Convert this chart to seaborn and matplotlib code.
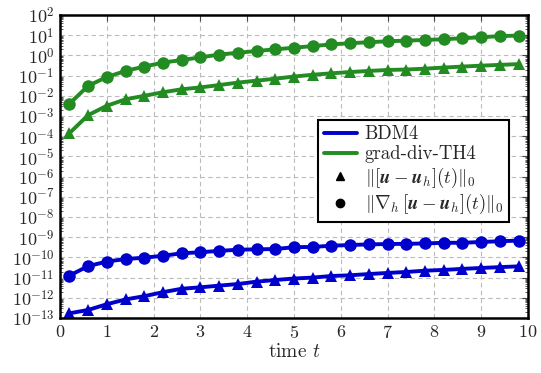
import numpy as np
import pandas as pd
import matplotlib
matplotlib.use("Agg")
import matplotlib.pyplot as plt
import seaborn as sns
from matplotlib.ticker import FixedLocator, FuncFormatter, LogLocator, NullFormatter
from matplotlib.lines import Line2D

sns.set_theme(style="white")
plt.rcParams['font.family'] = 'serif'
plt.rcParams['font.serif'] = ['cmr10', 'DejaVu Serif']
plt.rcParams['mathtext.fontset'] = 'cm'
plt.rcParams['axes.unicode_minus'] = False

# ---- data ----
t = [0.2, 0.6, 1.0, 1.4, 1.8, 2.2, 2.6, 3.0, 3.4, 3.8, 4.2, 4.6, 5.0,
     5.4, 5.8, 6.2, 6.6, 7.0, 7.4, 7.8, 8.2, 8.6, 9.0, 9.4, 9.8]

bdm_l2 = [1.7e-13, 2.5e-13, 4.8e-13, 8.3e-13, 1.2e-12, 1.9e-12, 2.8e-12, 3.3e-12,
          4.0e-12, 4.8e-12, 6.3e-12, 7.6e-12, 9.0e-12, 1.0e-11, 1.2e-11, 1.3e-11,
          1.5e-11, 1.7e-11, 1.9e-11, 2.2e-11, 2.4e-11, 2.7e-11, 3.0e-11, 3.3e-11, 3.6e-11]
bdm_h1 = [1.25e-11, 3.7e-11, 6.2e-11, 8.3e-11, 9.7e-11, 1.2e-10, 1.6e-10, 1.8e-10,
          2.1e-10, 2.4e-10, 2.5e-10, 2.6e-10, 3.2e-10, 3.3e-10, 3.8e-10, 4.1e-10,
          4.4e-10, 4.6e-10, 4.7e-10, 4.9e-10, 5.3e-10, 5.3e-10, 5.8e-10, 6.3e-10, 6.8e-10]
gd_l2 = [1.4e-4, 1.1e-3, 3.2e-3, 6.7e-3, 1.0e-2, 1.5e-2, 2.1e-2, 2.6e-2,
         3.4e-2, 4.5e-2, 5.6e-2, 7.0e-2, 9.0e-2, 0.11, 0.13, 0.15,
         0.17, 0.19, 0.20, 0.22, 0.25, 0.28, 0.31, 0.34, 0.37]
gd_h1 = [4.0e-3, 3.1e-2, 8.5e-2, 0.17, 0.28, 0.44, 0.59, 0.80,
         1.1, 1.35, 1.65, 2.0, 2.4, 2.9, 3.5, 4.0,
         4.5, 5.0, 5.4, 5.8, 6.3, 7.1, 7.9, 9.0, 9.6]

methods = ['BDM4', 'grad-div-TH4']
colors = {'BDM4': '#0000cc', 'grad-div-TH4': '#228b22'}
lab_l2 = r'$\Vert[\boldsymbol{u}-\boldsymbol{u}_h](t)\Vert_0$'
lab_h1 = r'$\Vert\nabla_h\,[\boldsymbol{u}-\boldsymbol{u}_h](t)\Vert_0$'

rows = []
for m, l2, h1 in [('BDM4', bdm_l2, bdm_h1), ('grad-div-TH4', gd_l2, gd_h1)]:
    for ti, v in zip(t, l2):
        rows.append(dict(t=ti, err=v, method=m, norm='L2'))
    for ti, v in zip(t, h1):
        rows.append(dict(t=ti, err=v, method=m, norm='H1'))
df = pd.DataFrame(rows)

fig = plt.figure(figsize=(5.41, 3.73), dpi=100)
ax = fig.add_axes([60/541, 1-318/373, 468/541, 303/373])

sns.lineplot(data=df, x='t', y='err', hue='method', style='norm',
             palette=colors, markers={'L2': '^', 'H1': 'o'}, dashes=False,
             linewidth=2.8, markersize=9, markeredgewidth=0, ax=ax,
             legend=False, estimator=None, units=None)

ax.set_yscale('log')
ax.set_xlim(0, 10)
ax.set_ylim(1e-13, 1e2)
ax.xaxis.set_major_locator(FixedLocator(range(0, 11)))
ax.xaxis.set_major_formatter(FuncFormatter(lambda v, p: r'$%d$' % v))
ax.yaxis.set_major_locator(FixedLocator([10.0**k for k in range(-13, 3)]))
ax.yaxis.set_major_formatter(FuncFormatter(lambda v, p: r'$10^{%d}$' % round(np.log10(v))))
ax.yaxis.set_minor_locator(LogLocator(base=10, subs=np.arange(2, 10), numticks=100))
ax.yaxis.set_minor_formatter(NullFormatter())
ax.tick_params(axis='both', which='major', direction='in', top=True, right=True,
               length=4, width=0.8, labelsize=13, pad=4, color='#444444')
ax.tick_params(axis='y', which='minor', direction='in', left=True, right=True,
               length=2.5, width=0.6, color='#444444')
ax.grid(True, which='major', color='#bbbbbb', linestyle=(0, (4, 3)), linewidth=0.8)
for s in ax.spines.values():
    s.set_linewidth(1.8)
    s.set_color('black')
ax.set_xlabel(r'time $t$', fontsize=14, labelpad=2)
ax.set_ylabel('')

handles = [Line2D([], [], color=colors['BDM4'], lw=2.8),
           Line2D([], [], color=colors['grad-div-TH4'], lw=2.8),
           Line2D([], [], color='black', marker='^', ls='none', markersize=6),
           Line2D([], [], color='black', marker='o', ls='none', markersize=6)]
leg = ax.legend(handles, ['BDM4', 'grad-div-TH4', lab_l2, lab_h1],
                loc='upper right', bbox_to_anchor=(0.96, 0.655), borderaxespad=0,
                fontsize=13.5, frameon=True, fancybox=False, framealpha=1,
                edgecolor='black', handlelength=1.8, handletextpad=0.4,
                labelspacing=0.12, borderpad=0.3)
leg.get_frame().set_linewidth(1.5)

fig.savefig('out.png', dpi=100)
